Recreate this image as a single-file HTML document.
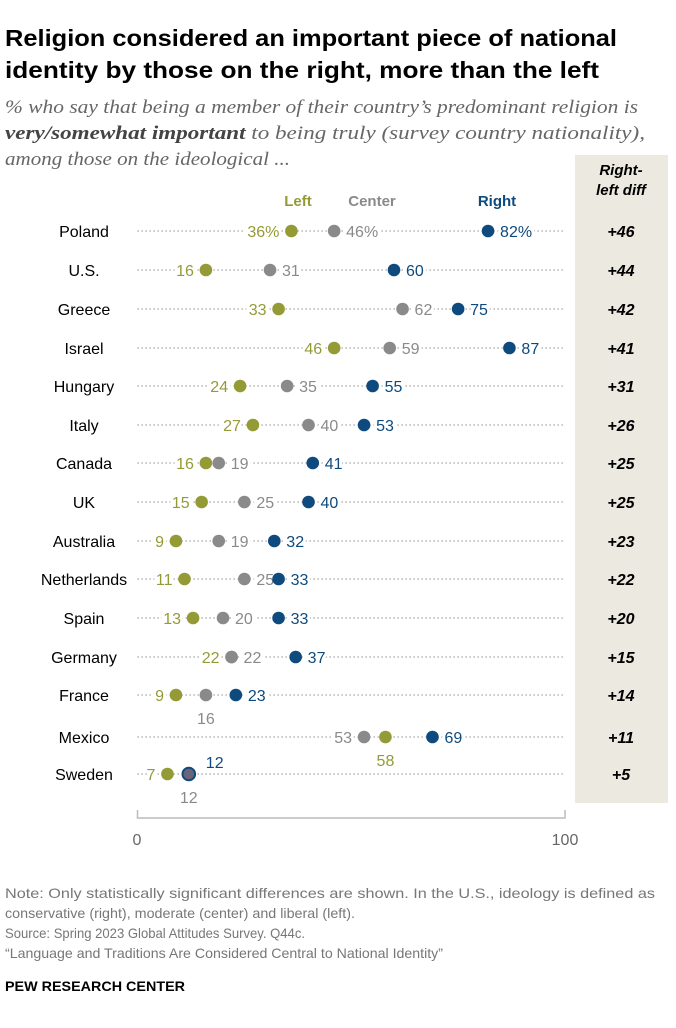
<!DOCTYPE html>
<html><head><meta charset="utf-8"><style>
body{margin:0;background:#fff;}
svg text{font-family:"Liberation Sans",sans-serif;}
</style></head><body>
<svg width="676" height="1023" viewBox="0 0 676 1023" xmlns="http://www.w3.org/2000/svg">
<text x="5" y="46" font-size="23" font-weight="bold" fill="#000" textLength="612" lengthAdjust="spacingAndGlyphs">Religion considered an important piece of national</text>
<text x="5" y="78" font-size="23" font-weight="bold" fill="#000" textLength="594" lengthAdjust="spacingAndGlyphs">identity by those on the right, more than the left</text>
<g font-style="italic" font-size="19" fill="#666">
<text x="5" y="113" textLength="633" lengthAdjust="spacingAndGlyphs" style="font-family:'Liberation Serif',serif">% who say that being a member of their country’s predominant religion is</text>
<text x="5" y="139" textLength="640" lengthAdjust="spacingAndGlyphs" style="font-family:'Liberation Serif',serif"><tspan font-weight="bold" fill="#444">very/somewhat important</tspan> to being truly (survey country nationality),</text>
<text x="5" y="165" textLength="285" lengthAdjust="spacingAndGlyphs" style="font-family:'Liberation Serif',serif">among those on the ideological ...</text>
</g>
<rect x="575" y="155" width="93" height="648" fill="#ece9e1"/>
<text x="621" y="175" font-size="15" font-weight="bold" font-style="italic" text-anchor="middle">Right-</text>
<text x="621" y="195" font-size="15" font-weight="bold" font-style="italic" text-anchor="middle">left diff</text>
<text x="298" y="206" font-size="15" font-weight="bold" fill="#949b36" text-anchor="middle">Left</text>
<text x="372" y="206" font-size="15" font-weight="bold" fill="#8a8a8a" text-anchor="middle">Center</text>
<text x="497" y="206" font-size="15" font-weight="bold" fill="#0e4a7d" text-anchor="middle">Right</text>
<g id="plot"></g>
<path d="M137.5 810 V818 H565 V810" fill="none" stroke="#bbb" stroke-width="1.5"/>
<text x="137" y="845" font-size="16" fill="#666" text-anchor="middle">0</text>
<text x="565" y="845" font-size="16" fill="#666" text-anchor="middle">100</text>
<g font-size="14" fill="#777">
<text x="5" y="898" textLength="650" lengthAdjust="spacingAndGlyphs">Note: Only statistically significant differences are shown. In the U.S., ideology is defined as</text>
<text x="5" y="918" textLength="350" lengthAdjust="spacingAndGlyphs">conservative (right), moderate (center) and liberal (left).</text>
<text x="5" y="938" textLength="300" lengthAdjust="spacingAndGlyphs">Source: Spring 2023 Global Attitudes Survey. Q44c.</text>
<text x="5" y="958" textLength="438" lengthAdjust="spacingAndGlyphs">“Language and Traditions Are Considered Central to National Identity”</text>
</g>
<text x="5" y="991" font-size="14" font-weight="bold" fill="#000" textLength="180" lengthAdjust="spacingAndGlyphs">PEW RESEARCH CENTER</text>
</svg>
<script>
const countries=["Poland","U.S.","Greece","Israel","Hungary","Italy","Canada","UK","Australia","Netherlands","Spain","Germany","France","Mexico","Sweden"];
const leftVals=[36,16,33,46,24,27,16,15,9,11,13,22,9,58,7];
const centerVals=[46,31,62,59,35,40,19,25,19,25,20,22,16,53,12];
const rightVals=[82,60,75,87,55,53,41,40,32,33,33,37,23,69,12];
const diffs=["+46","+44","+42","+41","+31","+26","+25","+25","+23","+22","+20","+15","+14","+11","+5"];
const rowY=[231,270,309,348,386,425,463,502,541,579,618,657,695,737,774];
const xs=v=>137.5+v*4.275;
const NS="http://www.w3.org/2000/svg";
const g=document.getElementById('plot');
const cols={l:"#949b36",c:"#8a8a8a",r:"#0e4a7d"};
const place={l:i=>i===13?'b':'l',c:i=>i===12||i===14?'b':(i===13?'l':'r'),r:i=>i===14?'a':'r'};
function mk(tag,attrs){const e=document.createElementNS(NS,tag);for(const k in attrs)e.setAttribute(k,attrs[k]);g.appendChild(e);return e;}
countries.forEach((c,i)=>{
  const y=rowY[i];
  const ln=mk('line',{x1:137.5,x2:565,y1:y,y2:y,stroke:"#999","stroke-width":1.3,"stroke-dasharray":"1.3 2.7"});
  
  
  const cl=mk('text',{x:84,y:y+6,"font-size":16,"text-anchor":"middle",fill:"#000"});
  cl.textContent=c;
  
  
  const dt=mk('text',{x:621,y:y+6,"font-size":16,"font-weight":"bold","font-style":"italic","text-anchor":"middle",fill:"#000"});
  dt.textContent=diffs[i];
  
  
});
const series=[["l",leftVals],["c",centerVals],["r",rightVals]];
countries.forEach((c,i)=>{
  const y=rowY[i];
  series.forEach(([k,vals])=>{
    const v=vals[i],x=xs(v),p=place[k](i);
    let tx=x,ty=y+6,anc="middle";
    if(p==='l'){tx=x-12;anc="end";}
    else if(p==='r'){tx=x+12;anc="start";}
    else if(p==='b'){ty=y+29;}
    else if(p==='a'){tx=x+17;ty=y-6;anc="start";}
    const t=mk('text',{x:tx,y:ty,"font-size":16,"text-anchor":anc,fill:cols[k],stroke:"#fff","stroke-width":6,"paint-order":"stroke"});
    t.textContent=v+(i===0?"%":"");
    
    
  });
});
countries.forEach((c,i)=>{
  const y=rowY[i];
  series.forEach(([k,vals])=>{
    const dot=mk('circle',{cx:xs(vals[i]),cy:y,r:6.3,fill:cols[k]});
    if(k==='r'&&rightVals[i]===centerVals[i]){dot.setAttribute('fill','#6b6478');dot.setAttribute('stroke',cols.r);dot.setAttribute('stroke-width',2);}
    
    
  });
});
</script>
</body></html>
